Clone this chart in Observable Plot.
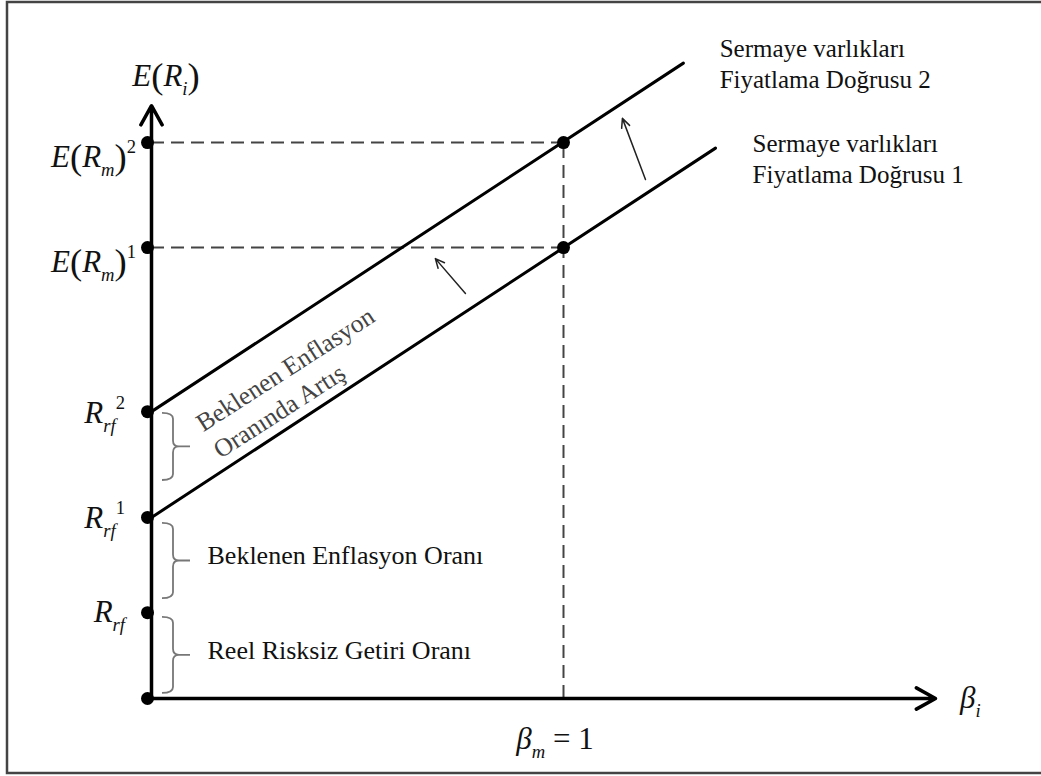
<!DOCTYPE html>
<html><head><meta charset="utf-8">
<script src="https://cdn.jsdelivr.net/npm/d3@7"></script>
<script src="https://cdn.jsdelivr.net/npm/@observablehq/plot@0.6"></script>
<style>body{margin:0;background:#fff;} svg{display:block;}</style>
</head><body><div id="chart"></div>
<script>
// ---------------- data (beta on x, expected return on y) ----------------
const betaMarket = 1;
const xAxisEnd = 1.903;
const yAxisEnd = 13.95;

const riskFreeReal = 2.02;    // R_rf
const riskFree1 = 4.26;       // R_rf^1
const riskFree2 = 6.75;       // R_rf^2
const marketReturn1 = 10.61;  // E(R_m)^1
const marketReturn2 = 13.08;  // E(R_m)^2

const axisDotLevels = [0, riskFreeReal, riskFree1, riskFree2, marketReturn1, marketReturn2];
const marketLevels = [marketReturn1, marketReturn2];

const smlNames = ["SML1", "SML2"];
const smlStartBeta = [0, 0];
const smlStartReturn = [4.26, 6.75];
const smlEndBeta = [1.369, 1.291];
const smlEndReturn = [12.95, 14.95];

const lineLabelTexts = ["Sermaye varlıkları\nFiyatlama Doğrusu 1", "Sermaye varlıkları\nFiyatlama Doğrusu 2"];
const lineLabelBeta = [1.459, 1.379];
const lineLabelReturn = [13.38, 15.62];

const shiftFromBeta = [0.762, 1.199];
const shiftFromReturn = [9.53, 12.21];
const shiftToBeta = [0.689, 1.143];
const shiftToReturn = [10.35, 13.65];

const braceTop = [6.71, 4.12, 1.91];
const braceBottom = [5.13, 2.35, 0.12];
const braceTexts = ["", "Beklenen Enflasyon Oranı", "Reel Risksiz Getiri Oranı"];

const shiftLabelText = "Beklenen Enflasyon\nOranında Artış";
const shiftLabelBeta = 0.133;
const shiftLabelReturn = 6.15;

// y tick labels (math): segments [text, kind]
const tickValues = [riskFreeReal, riskFree1, riskFree2, marketReturn1, marketReturn2];
const tickLabels = [
  [["R","it"],["rf","sub"]],
  [["R","it"],["rf","sub"],["1","sup"]],
  [["R","it"],["rf","sub"],["2","sup"]],
  [["E","it"],["(","paren"],["R","it"],["m","sub"],[")","paren"],["1","sup"]],
  [["E","it"],["(","paren"],["R","it"],["m","sub"],[")","paren"],["2","sup"]]
];
const yAxisTitle = [["E","it"],["(","paren"],["R","it"],["i","sub"],[")","paren"]];
const xAxisTitle = [["β","it"],["i","sub"]];
const marketBetaLabel = [["β","it"],["m","sub"],[" = 1","up"]];

// ---------------- layout / style ----------------
const FONT = "'Liberation Serif', 'Times New Roman', serif";
const MATH_SIZE = 31;
const tickLabelDx = [-26, -26, -26, -15, -15];
const tickLabelDy = [10, 11, 12, 25, 25];

// ---------------- derived tables ----------------
const smlData = smlNames.flatMap((n, i) => [
  {name: n, beta: smlStartBeta[i], ret: smlStartReturn[i]},
  {name: n, beta: smlEndBeta[i], ret: smlEndReturn[i]}
]);
const axesData = [
  {x1: 0, y1: 0, x2: xAxisEnd, y2: 0},
  {x1: 0, y1: 0, x2: 0, y2: yAxisEnd}
];
const shiftData = shiftFromBeta.map((b, i) => ({x1: b, y1: shiftFromReturn[i], x2: shiftToBeta[i], y2: shiftToReturn[i]}));
const lineLabelData = lineLabelTexts.map((t, i) => ({text: t, beta: lineLabelBeta[i], ret: lineLabelReturn[i]}));
const braceData = braceTop.map((t, i) => ({top: t, bottom: braceBottom[i], text: braceTexts[i]}));

function appendMath(g, segs, x, y, anchor, size) {
  const t = g.append("text")
    .attr("x", x).attr("y", y)
    .attr("text-anchor", anchor)
    .attr("font-family", FONT)
    .attr("font-size", size)
    .attr("fill", "#111");
  let shift = 0;
  for (const [s, kind] of segs) {
    const span = t.append("tspan").text(s);
    let target = 0, fs = size, style = "italic";
    if (kind === "sub") { target = 0.3 * size; fs = 0.6 * size; }
    else if (kind === "sup") { target = -0.45 * size; fs = 0.6 * size; style = "normal"; }
    else if (kind === "paren") { target = 0.05 * size; fs = 1.18 * size; style = "normal"; }
    else if (kind === "up") { style = "normal"; }
    span.attr("font-size", fs).attr("font-style", style).attr("dy", target - shift);
    shift = target;
  }
}

const frameMark = (index, scales, values, dims) => {
  const {width, height, marginLeft, marginTop, marginBottom} = dims;
  return d3.create("svg:path")
    .attr("d", `M${width + 5},${marginTop}H${marginLeft}V${height - marginBottom}H${width + 5}`)
    .attr("fill", "none").attr("stroke", "#444").attr("stroke-width", 2.5).node();
};

const braceMark = (index, scales) => {
  const g = d3.create("svg:g").attr("fill", "none").attr("stroke", "#777").attr("stroke-width", 1.8);
  const x0 = scales.x(0);
  const xl = x0 + 11, xv = x0 + 22, xt = x0 + 39, r = 6;
  for (const b of braceData) {
    const yt = scales.y(b.top), yb = scales.y(b.bottom), ym = (yt + yb) / 2;
    g.append("path").attr("d",
      `M${xl},${yt}Q${xv},${yt} ${xv},${yt + r}L${xv},${ym - r}Q${xv},${ym} ${xv + r},${ym}L${xt},${ym}` +
      `M${xv + r},${ym}Q${xv},${ym} ${xv},${ym + r}L${xv},${yb - r}Q${xv},${yb} ${xl},${yb}`);
  }
  return g.node();
};

const mathMark = (index, scales) => {
  const g = d3.create("svg:g");
  const x0 = scales.x(0);
  tickValues.forEach((v, i) => appendMath(g, tickLabels[i], x0 + tickLabelDx[i], scales.y(v) + tickLabelDy[i], "end", MATH_SIZE));
  appendMath(g, yAxisTitle, x0 + 15, scales.y(yAxisEnd) - 19, "middle", MATH_SIZE);
  appendMath(g, xAxisTitle, scales.x(xAxisEnd) + 25, scales.y(0) + 10, "start", MATH_SIZE);
  appendMath(g, marketBetaLabel, scales.x(betaMarket) - 8, scales.y(0) + 51, "middle", MATH_SIZE);
  return g.node();
};

const chart = Plot.plot({
  width: 1041,
  height: 776,
  marginTop: 2, marginLeft: 7, marginRight: 0, marginBottom: 3,
  x: {domain: [0, 1], range: [151, 563], axis: null},
  y: {domain: [0, 10], range: [698, 273], axis: null},
  style: {background: "#fff"},
  marks: [
    frameMark,
    Plot.ruleY(marketLevels, {y: d => d, x1: () => 0, x2: () => betaMarket, stroke: "#444", strokeWidth: 2, strokeDasharray: "13,7"}),
    Plot.ruleX([betaMarket], {x: d => d, y1: () => 0, y2: () => marketReturn2, stroke: "#444", strokeWidth: 2, strokeDasharray: "13,7"}),
    braceMark,
    Plot.line(smlData, {x: "beta", y: "ret", z: "name", stroke: "#000", strokeWidth: 3}),
    Plot.arrow(axesData, {x1: "x1", y1: "y1", x2: "x2", y2: "y2", stroke: "#000", strokeWidth: 3.5, headLength: 9.4, headAngle: 58}),
    Plot.arrow(shiftData, {x1: "x1", y1: "y1", x2: "x2", y2: "y2", stroke: "#222", strokeWidth: 1.5, headLength: 10, headAngle: 50}),
    Plot.dot(axisDotLevels, {x: () => 0, y: d => d, r: 6.5, fill: "#000", dx: -4}),
    Plot.dot(marketLevels, {x: () => betaMarket, y: d => d, r: 6.5, fill: "#000"}),
    Plot.text(braceData.filter(d => d.text), {x: () => 0, y: d => (d.top + d.bottom) / 2, text: "text", textAnchor: "start", dx: 56, dy: -5, fontSize: 26, fontFamily: FONT, fill: "#111"}),
    Plot.text(lineLabelData, {x: "beta", y: "ret", text: "text", textAnchor: "start", lineAnchor: "top", lineHeight: 1.24, fontSize: 25, fontFamily: FONT, fill: "#111"}),
    Plot.text([shiftLabelText], {x: () => shiftLabelBeta, y: () => shiftLabelReturn, text: d => d, rotate: -32.8, textAnchor: "start", lineAnchor: "middle", lineHeight: 1.25, fontSize: 25.5, fontFamily: FONT, fill: "#444"}),
    mathMark
  ]
});
document.getElementById("chart").appendChild(chart);
</script>
</body></html>
